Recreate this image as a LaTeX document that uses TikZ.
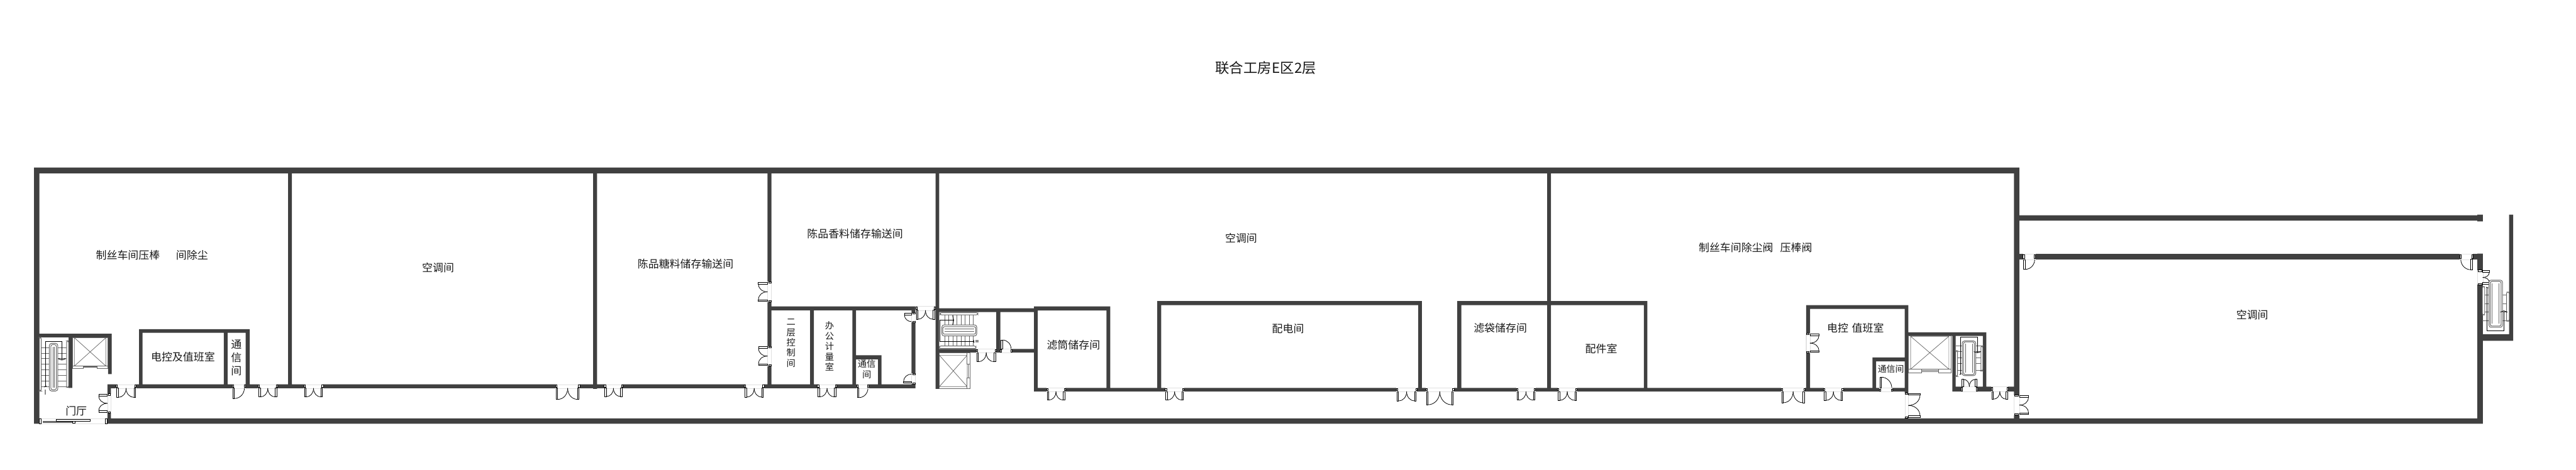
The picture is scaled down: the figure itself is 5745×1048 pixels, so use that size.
\documentclass[tikz,border=0pt]{standalone}
\usepackage{fontspec}
\setmainfont{Noto Sans CJK SC}
\definecolor{wallc}{HTML}{404040}
\definecolor{railc}{HTML}{666666}
\tikzset{
  wall/.style={fill=wallc},
  gapline/.style={draw=black!12,line width=.12pt},
  jamb/.style={draw=black,fill=white,line width=.18pt},
  leaf/.style={draw=black,fill=white,line width=.25pt},
  swing/.style={draw=black,line width=.22pt},
  stp/.style={draw=railc,line width=.28pt},
  rail/.style={draw=railc,fill=white,line width=.28pt},
  walk/.style={draw=black,line width=.25pt},
  lift/.style={draw=railc,line width=.2pt},
  liftout/.style={draw=railc,line width=.26pt},
  lbl/.style={inner sep=0pt,align=center,text=black!90,font=\fontsize{4.75pt}{5.9pt}\selectfont},
  lblsmall/.style={inner sep=0pt,align=center,text=black!90,font=\fontsize{4pt}{4.6pt}\selectfont},
  lblmid/.style={inner sep=0pt,align=center,text=black!90,font=\fontsize{3.9pt}{4.5pt}\selectfont},
  lbltitle/.style={inner sep=0pt,text=black!90,font=\fontsize{6.3pt}{7pt}\selectfont},
  dn/.style={x={(.2pt,0pt)},y={(0pt,-.2pt)}},
  dnm/.style={x={(-.2pt,0pt)},y={(0pt,-.2pt)}},
  upw/.style={x={(.2pt,0pt)},y={(0pt,.2pt)}},
  rt/.style={x={(0pt,-.2pt)},y={(.2pt,0pt)}},
  lf/.style={x={(0pt,-.2pt)},y={(-.2pt,0pt)}},
  lfm/.style={x={(0pt,.2pt)},y={(-.2pt,0pt)}},
}
% orient, x, y, width, wall thickness
\newcommand\ddoor[5]{\begin{scope}[shift={(#2,#3)},#1]
  \fill[white] (0,.5) rectangle (#4,-#5-.5);
  \draw[gapline] (0,-#5)--(#4,-#5) (0,0)--(#4,0);
  \filldraw[jamb] (0,-#5+1) rectangle (3,-2);
  \filldraw[jamb] (#4,-#5+1) rectangle (#4-3,-2);
  \filldraw[leaf] (1.5,0) rectangle (5,#4/2-2);
  \filldraw[leaf] (#4-1.5,0) rectangle (#4-5,#4/2-2);
  \draw[swing] (5,#4/2-2) .. controls (5+.55*#4/2-2.75,#4/2-2) and (#4/2,.27*#4) .. (#4/2,0);
  \draw[swing] (#4-5,#4/2-2) .. controls (#4-5-.55*#4/2+2.75,#4/2-2) and (#4/2,.27*#4) .. (#4/2,0);
\end{scope}}
\newcommand\sdoor[5]{\begin{scope}[shift={(#2,#3)},#1]
  \fill[white] (0,.5) rectangle (#4,-#5-.5);
  \draw[gapline] (0,-#5)--(#4,-#5) (0,0)--(#4,0);
  \filldraw[jamb] (0,-#5+1) rectangle (3,-2);
  \filldraw[jamb] (#4,-#5+1) rectangle (#4-3,-2);
  \filldraw[leaf] (1.5,0) rectangle (5,#4-6);
  \draw[swing] (5,#4-6) .. controls (5+.55*#4-3.85,#4-6) and (#4-2,.55*#4-3.3) .. (#4-2,0);
\end{scope}}
% stair pieces, unit square: x across, y along
\newcommand\stairsteps[1]{\foreach \t in {#1} \draw[stp] (0,\t)--(1,\t);}
\newcommand\siderail[4]{\filldraw[rail,rounded corners=.7pt] (#1,#3) rectangle (#2,#4);}
\newcommand\midrail[4]{%
  \filldraw[rail,rounded corners=1pt] (#1,#3) rectangle (#2,#4);
  \draw[rail,fill=none,rounded corners=.8pt] (#1+.05,#3+.025) rectangle (#2-.05,#4-.025);
  \draw[stp] (#1+.12,#3+.07)--(#1+.12,#4-.07) (#2-.12,#3+.07)--(#2-.12,#4-.07);}
\newcommand\walkline[5]{%
  \draw[walk] (#1,#2)--(#1,#3)--(#4,#3)--(#4,#5);
  \draw[walk] (#4-.13,#5-.015)--(#4,#5+.012)--(#4+.13,#5-.015);
  \draw[walk] (#1-.04,#2+.008)--(#1+.04,#2-.008);}
\begin{document}
\begin{tikzpicture}[x=.2pt,y=-.2pt]
\useasboundingbox (0,0) rectangle (5745,1048);
\fill[white] (0,0) rectangle (5745,1048);
% ---------- walls
\fill[wall]
 (76,374) rectangle (4503.5,387)
 (76,374) rectangle (88,946)
 (239,934) rectangle (5537,946)
 (88,745) rectangle (249,753)
 (153,745) rectangle (161,866)
 (241,745) rectangle (249,835)
 (239.5,858) rectangle (247.5,946)
 (240,858) rectangle (2041.5,866.5)
 (642.7,387) rectangle (651,866)
 (1322.7,387) rectangle (1331.6,868)
 (1711.7,387) rectangle (1720.5,866.5)
 (2086.5,387) rectangle (2094.5,868)
 (3450.4,387) rectangle (3459,874)
 (4491.6,374) rectangle (4503.6,946)
 (310,734.7) rectangle (557,743)
 (310,734.7) rectangle (318,858)
 (499,734.7) rectangle (507.5,858)
 (548,734.7) rectangle (557,858)
 (1720,684) rectangle (2041.5,692.7)
 (1806.7,692) rectangle (1815,858)
 (1901,692) rectangle (1909,858)
 (1901,793) rectangle (1966,802)
 (1958,793) rectangle (1966,858)
 (2033,684) rectangle (2041.5,866.5)
 (2086.5,688) rectangle (2314,696.7)
 (2094,779) rectangle (2177,787)
 (2177,779) rectangle (2231,787)
 (2222,696) rectangle (2231,787)
 (2231,779) rectangle (2306,787)
 (2306,866) rectangle (4256,874)
 (2306,684) rectangle (2476,693)
 (2306,684) rectangle (2314.5,874)
 (2467.5,684) rectangle (2476,874)
 (2581,672) rectangle (3171,681)
 (2581,672) rectangle (2589.5,874)
 (3163,672) rectangle (3171,874)
 (3250,672) rectangle (3674,681)
 (3250,672) rectangle (3259,874)
 (3666,672) rectangle (3674,874)
 (4028,681) rectangle (4256,689.5)
 (4028,681) rectangle (4036.6,874)
 (4248,681) rectangle (4256,946)
 (4176,798) rectangle (4256,806.7)
 (4176,798) rectangle (4184,874)
 (4256,741.7) rectangle (4430,750)
 (4354,741.7) rectangle (4361.6,874)
 (4422,741.7) rectangle (4430,866)
 (4354,863) rectangle (4491.6,874)
 (4503,480.7) rectangle (5525,492.5)
 (5525,479) rectangle (5537,494.3)
 (4503,567) rectangle (5525,579)
 (5525,566) rectangle (5537,946)
 (5595.7,479) rectangle (5605,760.7)
 (5537,746) rectangle (5605,760.7);
% ---------- double doors
\ddoor{dn}{258.7}{866.5}{45}{8.5}
\ddoor{dn}{575.7}{866.5}{43}{8.5}
\ddoor{dn}{677.7}{866.5}{43}{8.5}
\ddoor{dn}{1239}{866.5}{54}{8.5}
\ddoor{dn}{1347.6}{866.5}{41}{8.5}
\ddoor{dn}{1660}{866.5}{44}{8.5}
\ddoor{dn}{1823}{866.5}{43}{8.5}
\ddoor{dn}{2042}{692.7}{44}{8.7}
\ddoor{dn}{2177}{787}{45}{8}
\ddoor{dn}{2334}{874}{42}{8}
\ddoor{dn}{2598.6}{874}{42}{8}
\ddoor{dn}{3114}{874}{46}{8}
\ddoor{dn}{3179.5}{874}{63}{8}
\ddoor{dn}{3382}{874}{42.5}{8}
\ddoor{dn}{3473.6}{874}{43.4}{8}
\ddoor{dn}{3972}{874}{54}{8}
\ddoor{dn}{4067}{874}{43.7}{8}
\ddoor{dn}{4441}{874}{38}{11}
\ddoor{upw}{4374}{863}{36}{11}
\ddoor{lf}{239.5}{879}{42.7}{8}
\ddoor{lf}{1711.7}{629}{45}{8.8}
\ddoor{lf}{1711.7}{772.6}{44.5}{8.8}
\ddoor{rt}{4036.6}{744}{44}{8.6}
\ddoor{rt}{4256}{877}{56}{8}
\ddoor{rt}{4503.6}{881.7}{45}{12}
\ddoor{rt}{5537}{602.7}{33.3}{12}
% ---------- single doors
\sdoor{dn}{518}{866.5}{29}{8.5}
\sdoor{dn}{1910.7}{866.5}{27}{8.5}
\sdoor{lf}{2033}{698}{22}{8.5}
\sdoor{lfm}{2033}{857}{24}{8.5}
\sdoor{upw}{2231}{779}{26}{8}
\sdoor{upw}{4191}{866}{30}{8}
\sdoor{dn}{4511.7}{579.3}{28}{12}
\sdoor{dnm}{5515}{579}{29}{12}
% ---------- stairs
\begin{scope}[shift={(88,753)},x={(13pt,0pt)},y={(0pt,-22.4pt)}]
  \stairsteps{.205,.315,.425,.54,.65,.76,.875,.985}
  \siderail{0}{.06}{0}{1.07}
  \siderail{.93}{1}{.07}{1}
  \midrail{.34}{.63}{.12}{1.07}
  \walkline{.2}{.98}{.08}{.77}{.44}
\end{scope}
\fill[black!45] (99,870) rectangle (102.5,881);
\begin{scope}[shift={(2090.6,778)},x={(0pt,16pt)},y={(16.4pt,0pt)}]
  \stairsteps{.2,.31,.42,.53,.65,.76,.87,.98}
  \siderail{.94}{1}{.07}{1.1}
  \siderail{0}{.07}{.05}{1.05}
  \midrail{.35}{.66}{.12}{1.07}
  \walkline{.2}{.99}{.07}{.79}{.43}
\end{scope}
\fill[black!45] (2175,759) rectangle (2183,764);
\begin{scope}[shift={(4361.6,748)},x={(12.08pt,0pt)},y={(0pt,-17.4pt)}]
  \stairsteps{.27,.43,.58,.73,.9}
  \siderail{0}{.07}{.4}{1.06}
  \siderail{.93}{1}{.28}{.92}
  \midrail{.24}{.74}{.15}{1.04}
  \walkline{.18}{1}{.05}{.8}{.44}
\end{scope}
\begin{scope}[shift={(5536,744)},x={(12pt,0pt)},y={(0pt,22.2pt)}]
  \stairsteps{.25,.43,.59,.77}
  \siderail{0}{.09}{.37}{.94}
  \siderail{.9}{1}{.245}{.83}
  \midrail{.245}{.75}{.12}{1.07}
  \walkline{.18}{.92}{.05}{.8}{.44}
\end{scope}
% ---------- lifts
\draw[liftout] (161.7,753.5) rectangle (240.5,820);
\draw[lift] (166,754) rectangle (236,817) (166,754)--(236,817) (166,817)--(236,754);
\filldraw[liftout,fill=white] (161.7,817) rectangle (186,823);
\filldraw[liftout,fill=white] (216,817) rectangle (240.5,823);
\draw[lift] (186,818)--(216,818);
\draw[liftout] (2094.5,788) rectangle (2164,867);
\draw[lift] (2095,793) rectangle (2157,863) (2095,793)--(2157,863) (2095,863)--(2157,793);
\filldraw[liftout,fill=white] (2157,788) rectangle (2164,813);
\filldraw[liftout,fill=white] (2157,843) rectangle (2164,867);
\draw[lift] (2159,813)--(2159,843);
\draw[liftout] (4256,750) rectangle (4351.8,830);
\draw[lift] (4261,750.7) rectangle (4346.4,824) (4261,750.7)--(4346.4,824) (4261,824)--(4346.4,750.7);
\filldraw[liftout,fill=white] (4256,824) rectangle (4285.7,832.7);
\filldraw[liftout,fill=white] (4322.8,824) rectangle (4351.8,832.7);
\draw[lift] (4285.7,826)--(4322.8,826);
% ---------- sliding door of the lobby
\draw[gapline] (88,934.5)--(239,934.5) (88,946)--(239,946);
\filldraw[jamb] (88,935) rectangle (91,946);
\filldraw[jamb] (235,935) rectangle (239,946);
\fill[wallc!80] (95,940) rectangle (166.7,944);
\filldraw[leaf] (125,936) rectangle (201,940);
\filldraw[jamb] (162,940) rectangle (166.7,944);
% ---------- labels
\node[lbltitle] (title) at (2823,152) {联合工房E区2层};
\node[lbl] (a1) at (339,570) {制丝车间压棒\hspace{7.2pt}间除尘};
\node[lbl] (a2) at (977,598) {空调间};
\node[lbl] (a3) at (408,797) {电控及值班室};
\node[lbl] (a4) at (527,798) {通\\信\\间};
\node[lbl] (a5) at (170,918) {门厅};
\node[lbl] (b1) at (1529,589) {陈品糖料储存输送间};
\node[lbl] (b2) at (1907,522) {陈品香料储存输送间};
\node[lblsmall] (b3) at (1764,766) {二\\层\\控\\制\\间};
\node[lblsmall] (b4) at (1850,773) {办\\公\\计\\量\\室};
\node[lblsmall] (b5) at (1933,824) {通信\\间};
\node[lbl] (c1) at (2394,770) {滤筒储存间};
\node[lbl] (c2) at (2768,531) {空调间};
\node[lbl] (c3) at (2872.6,733) {配电间};
\node[lbl] (c4) at (3346,732) {滤袋储存间};
\node[lbl] (c5) at (3571,778) {配件室};
\node[lbl] (d1) at (3915,552) {制丝车间除尘阀\hspace{3.1pt}压棒阀};
\node[lbl] (d2) at (4138,732) {电控\hspace{1.6pt}值班室};
\node[lblmid] (d3) at (4217,824) {通信间};
\node[lbl] (e1) at (5023,703) {空调间};
\end{tikzpicture}
\end{document}
